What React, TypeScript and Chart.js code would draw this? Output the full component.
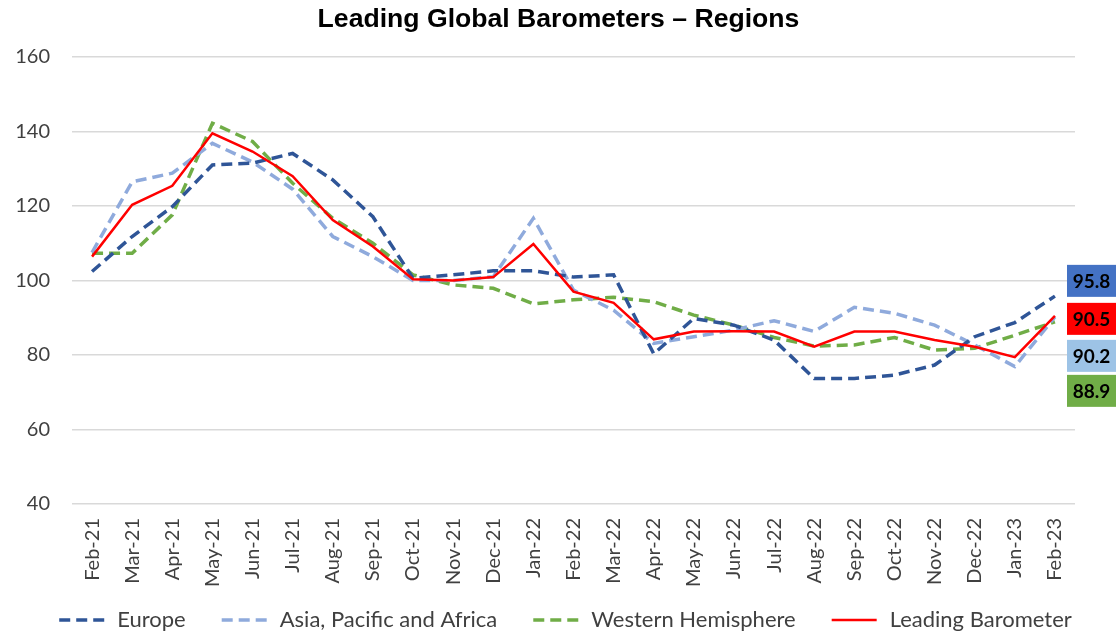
import React, { useEffect, useRef } from "react";
import { Chart, registerables } from "chart.js";

Chart.register(...registerables);

const categories = [
  "Feb-21", "Mar-21", "Apr-21", "May-21", "Jun-21", "Jul-21", "Aug-21", "Sep-21",
  "Oct-21", "Nov-21", "Dec-21", "Jan-22", "Feb-22", "Mar-22", "Apr-22", "May-22",
  "Jun-22", "Jul-22", "Aug-22", "Sep-22", "Oct-22", "Nov-22", "Dec-22", "Jan-23", "Feb-23",
];

const europe = [
  102.4, 111.8, 119.8, 131.0, 131.5, 134.1, 127.0, 117.1, 100.6, 101.5, 102.6, 102.6, 100.9,
  101.5, 80.3, 89.8, 88.0, 84.0, 73.7, 73.7, 74.6, 77.3, 84.9, 88.7, 95.8,
];

const asiaPacificAfrica = [
  107.5, 126.5, 128.8, 136.8, 131.8, 124.5, 111.8, 106.4, 100.0, 100.0, 101.0, 116.7, 97.4,
  92.0, 83.1, 84.9, 86.7, 89.2, 86.3, 92.8, 91.2, 88.0, 82.7, 76.9, 90.2,
];

const westernHemisphere = [
  107.3, 107.3, 117.6, 142.2, 137.3, 126.1, 116.7, 110.0, 101.5, 98.8, 97.9, 93.7, 94.8,
  95.5, 94.3, 90.7, 88.0, 84.7, 82.4, 82.7, 84.7, 81.3, 81.8, 85.3, 88.9,
];

const leadingBarometer = [
  106.4, 120.3, 125.4, 139.5, 134.6, 128.0, 116.2, 109.1, 100.3, 100.0, 100.9, 109.8, 97.0,
  94.0, 84.2, 86.3, 86.4, 86.3, 82.2, 86.3, 86.3, 84.0, 82.2, 79.4, 90.5,
];

const yTicks = [40, 60, 80, 100, 120, 140, 160];

const seriesNames = ["Europe", "Asia, Pacific and Africa", "Western Hemisphere", "Leading Barometer"];
const lineColors = ["#2F5597", "#8FAADC", "#70AD47", "#FF0000"];
const boxColors = ["#4472C4", "#FF0000", "#9DC3E6", "#70AD47"]; // Europe, Leading, Asia, Western
const TEXT_FONT = "Lato, 'Open Sans', sans-serif";

const endLabelsPlugin = {
  id: "endLabels",
  afterDatasetsDraw(chart: any) {
    const { ctx, chartArea, scales } = chart;
    const y = scales.y;
    const last = categories.length - 1;
    const anchor = y.getPixelForValue(leadingBarometer[last]) + 3;
    const items = [
      { v: europe[last], c: boxColors[0], cy: anchor - 38 },
      { v: leadingBarometer[last], c: boxColors[1], cy: anchor },
      { v: asiaPacificAfrica[last], c: boxColors[2], cy: anchor + 37 },
      { v: westernHemisphere[last], c: boxColors[3], cy: anchor + 72 },
    ];
    const w = 49;
    const h = 32;
    const left = chartArea.right - 8;
    ctx.save();
    ctx.font = `bold 19px ${TEXT_FONT}`;
    ctx.textAlign = "center";
    ctx.textBaseline = "middle";
    items.forEach((it) => {
      ctx.fillStyle = it.c;
      ctx.fillRect(left, it.cy - h / 2, w, h);
      ctx.fillStyle = "#000000";
      ctx.fillText(it.v.toFixed(1), left + w / 2, it.cy + 1);
    });
    ctx.restore();
  },
};

const bottomLegendPlugin = {
  id: "bottomLegend",
  afterDraw(chart: any) {
    const { ctx, chartArea } = chart;
    const lineW = 45;
    const gapText = 13;
    const gapItem = 36;
    ctx.save();
    ctx.font = `22px ${TEXT_FONT}`;
    const ds = chart.data.datasets;
    const widths = ds.map((d: any) => lineW + gapText + ctx.measureText(d.label).width);
    const total = widths.reduce((a: number, b: number) => a + b, 0) + gapItem * (ds.length - 1);
    const center = (chartArea.left + chartArea.right) / 2 - 8;
    let x = center - total / 2;
    const yMid = 620;
    ds.forEach((d: any, i: number) => {
      ctx.strokeStyle = d.borderColor;
      ctx.lineWidth = d.borderWidth;
      ctx.lineCap = "butt";
      ctx.setLineDash(d.borderDash || []);
      ctx.beginPath();
      ctx.moveTo(x, yMid);
      ctx.lineTo(x + lineW, yMid);
      ctx.stroke();
      ctx.setLineDash([]);
      ctx.fillStyle = "#404040";
      ctx.textAlign = "left";
      ctx.textBaseline = "middle";
      ctx.fillText(d.label, x + lineW + gapText, yMid);
      x += widths[i] + gapItem;
    });
    ctx.restore();
  },
};

export default function App() {
  const canvasRef = useRef<HTMLCanvasElement | null>(null);

  useEffect(() => {
    document.body.style.margin = "0";
    const canvas = canvasRef.current;
    if (!canvas) return;
    const datasets = [europe, asiaPacificAfrica, westernHemisphere, leadingBarometer].map((d, i) => ({
      label: seriesNames[i],
      data: d,
      borderColor: lineColors[i],
      backgroundColor: lineColors[i],
      borderWidth: i === 3 ? 2.5 : 3.5,
      borderDash: i === 3 ? [] : [11, 6],
      borderCapStyle: "butt" as const,
      pointRadius: 0,
      tension: 0,
      fill: false,
      order: i === 3 ? 0 : i + 1,
    }));

    const chart = new Chart(canvas, {
      type: "line",
      data: { labels: categories, datasets },
      plugins: [endLabelsPlugin, bottomLegendPlugin],
      options: {
        responsive: false,
        animation: false,
        layout: { padding: { left: 0, right: 0, top: 0, bottom: 39 } },
        plugins: {
          title: {
            display: true,
            text: "Leading Global Barometers \u2013 Regions",
            color: "#000000",
            font: { family: "'Liberation Sans', Arial, sans-serif", size: 26.6, weight: "bold" },
            padding: { top: 4, bottom: 21 },
          },
          legend: { display: false },
          tooltip: { enabled: false },
        },
        scales: {
          x: {
            offset: true,
            afterFit: (s: any) => {
              s.height = 90;
            },
            grid: { display: false, drawTicks: false },
            border: { display: false },
            ticks: {
              minRotation: 90,
              maxRotation: 90,
              autoSkip: false,
              padding: 14,
              color: "#404040",
              font: { family: TEXT_FONT, size: 20 },
            },
          },
          y: {
            min: 40,
            max: 160,
            afterFit: (s: any) => {
              s.width = 72;
            },
            afterBuildTicks: (s: any) => {
              s.ticks = yTicks.map((v) => ({ value: v }));
            },
            grid: { color: "#D9D9D9", lineWidth: 1.5, drawTicks: false },
            border: { display: false },
            ticks: {
              padding: 22,
              color: "#404040",
              font: { family: TEXT_FONT, size: 20 },
            },
          },
          yRight: {
            position: "right",
            min: 40,
            max: 160,
            afterFit: (s: any) => {
              s.width = 42;
            },
            grid: { display: false, drawTicks: false },
            border: { display: false },
            ticks: { display: false },
          },
        },
      },
    });
    return () => chart.destroy();
  }, []);

  return (
    <div style={{ width: 1117, height: 633, position: "relative" }}>
      <canvas ref={canvasRef} width={1117} height={633} style={{ display: "block" }} />
    </div>
  );
}
